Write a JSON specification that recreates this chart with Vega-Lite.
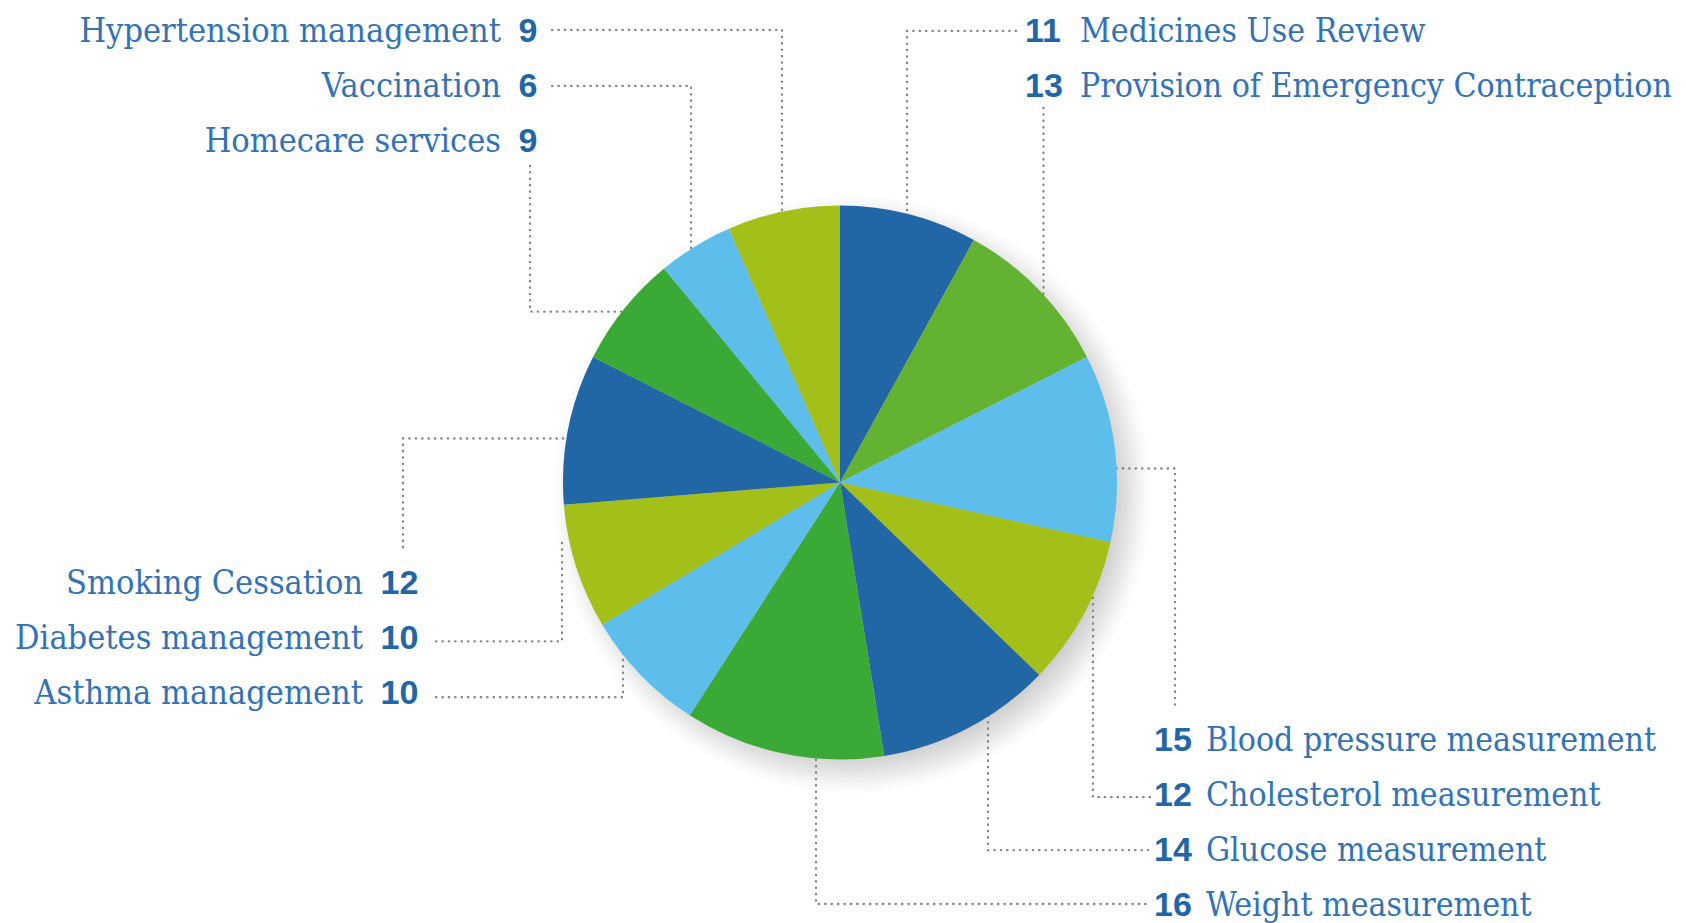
{
  "$schema": "https://vega.github.io/schema/vega-lite/v6.json",
  "width": 1686,
  "height": 923,
  "autosize": {"type": "fit", "contains": "padding"},
  "padding": 0,
  "background": "white",
  "config": {"view": {"stroke": null}},
  "datasets": {
    "slices": [
      {"idx": 1, "name": "Medicines Use Review", "value": 11},
      {"idx": 2, "name": "Provision of Emergency Contraception", "value": 13},
      {"idx": 3, "name": "Blood pressure measurement", "value": 15},
      {"idx": 4, "name": "Cholesterol measurement", "value": 12},
      {"idx": 5, "name": "Glucose measurement", "value": 14},
      {"idx": 6, "name": "Weight measurement", "value": 16},
      {"idx": 7, "name": "Asthma management", "value": 10},
      {"idx": 8, "name": "Diabetes management", "value": 10},
      {"idx": 9, "name": "Smoking Cessation", "value": 12},
      {"idx": 10, "name": "Homecare services", "value": 9},
      {"idx": 11, "name": "Vaccination", "value": 6},
      {"idx": 12, "name": "Hypertension management", "value": 9}
    ],
    "labels": [
      {"name": "Hypertension management", "value": 9, "side": "L", "tx": 501, "nx": 518.5, "ty": 42},
      {"name": "Vaccination", "value": 6, "side": "L", "tx": 501, "nx": 518.5, "ty": 97},
      {"name": "Homecare services", "value": 9, "side": "L", "tx": 501, "nx": 518.5, "ty": 152},
      {"name": "Smoking Cessation", "value": 12, "side": "L", "tx": 363, "nx": 380.5, "ty": 595},
      {"name": "Diabetes management", "value": 10, "side": "L", "tx": 363, "nx": 380.5, "ty": 650},
      {"name": "Asthma management", "value": 10, "side": "L", "tx": 363, "nx": 380.5, "ty": 705},
      {"name": "Medicines Use Review", "value": 11, "side": "R", "tx": 1080, "nx": 1025, "ty": 42},
      {"name": "Provision of Emergency Contraception", "value": 13, "side": "R", "tx": 1080, "nx": 1025, "ty": 97},
      {"name": "Blood pressure measurement", "value": 15, "side": "R", "tx": 1206, "nx": 1154, "ty": 752},
      {"name": "Cholesterol measurement", "value": 12, "side": "R", "tx": 1206, "nx": 1154, "ty": 807},
      {"name": "Glucose measurement", "value": 14, "side": "R", "tx": 1206, "nx": 1154, "ty": 862},
      {"name": "Weight measurement", "value": 16, "side": "R", "tx": 1206, "nx": 1154, "ty": 917}
    ],
    "leaders": [
      {"name": "Hypertension management", "step": 1, "px": 552, "py": 30},
      {"name": "Hypertension management", "step": 2, "px": 782, "py": 30},
      {"name": "Hypertension management", "step": 3, "px": 782, "py": 218},
      {"name": "Vaccination", "step": 1, "px": 552, "py": 86},
      {"name": "Vaccination", "step": 2, "px": 691, "py": 86},
      {"name": "Vaccination", "step": 3, "px": 691, "py": 254},
      {"name": "Homecare services", "step": 1, "px": 530, "py": 166},
      {"name": "Homecare services", "step": 2, "px": 530, "py": 312},
      {"name": "Homecare services", "step": 3, "px": 628, "py": 312},
      {"name": "Medicines Use Review", "step": 1, "px": 1016, "py": 31},
      {"name": "Medicines Use Review", "step": 2, "px": 907, "py": 31},
      {"name": "Medicines Use Review", "step": 3, "px": 907, "py": 220},
      {"name": "Provision of Emergency Contraception", "step": 1, "px": 1043.5, "py": 108},
      {"name": "Provision of Emergency Contraception", "step": 2, "px": 1043.5, "py": 302},
      {"name": "Blood pressure measurement", "step": 1, "px": 1110, "py": 469},
      {"name": "Blood pressure measurement", "step": 2, "px": 1175, "py": 469},
      {"name": "Blood pressure measurement", "step": 3, "px": 1175, "py": 710},
      {"name": "Cholesterol measurement", "step": 1, "px": 1093, "py": 592},
      {"name": "Cholesterol measurement", "step": 2, "px": 1093, "py": 798},
      {"name": "Cholesterol measurement", "step": 3, "px": 1151, "py": 798},
      {"name": "Glucose measurement", "step": 1, "px": 988, "py": 710},
      {"name": "Glucose measurement", "step": 2, "px": 988, "py": 851},
      {"name": "Glucose measurement", "step": 3, "px": 1151, "py": 851},
      {"name": "Weight measurement", "step": 1, "px": 816, "py": 754},
      {"name": "Weight measurement", "step": 2, "px": 816, "py": 905},
      {"name": "Weight measurement", "step": 3, "px": 1151, "py": 905},
      {"name": "Asthma management", "step": 1, "px": 436, "py": 698},
      {"name": "Asthma management", "step": 2, "px": 623, "py": 698},
      {"name": "Asthma management", "step": 3, "px": 623, "py": 650},
      {"name": "Diabetes management", "step": 1, "px": 436, "py": 642},
      {"name": "Diabetes management", "step": 2, "px": 562, "py": 642},
      {"name": "Diabetes management", "step": 3, "px": 562, "py": 538},
      {"name": "Smoking Cessation", "step": 1, "px": 403, "py": 548},
      {"name": "Smoking Cessation", "step": 2, "px": 403, "py": 439},
      {"name": "Smoking Cessation", "step": 3, "px": 572, "py": 439}
    ]
  },
  "layer": [
    {
      "data": {"values": [{}]},
      "mark": {
        "type": "arc",
        "outerRadius": 300,
        "theta": 0,
        "theta2": 6.2832,
        "fill": {
          "gradient": "radial",
          "x1": 0.5, "y1": 0.5, "r1": 0,
          "x2": 0.5, "y2": 0.5, "r2": 0.5,
          "stops": [
            {"offset": 0, "color": "#c8c8c8"},
            {"offset": 0.86, "color": "#cbcbcb"},
            {"offset": 0.92, "color": "#e2e2e2"},
            {"offset": 0.97, "color": "#f7f7f7"},
            {"offset": 1, "color": "#ffffff"}
          ]
        }
      },
      "encoding": {
        "x": {"datum": 852, "type": "quantitative", "scale": {"domain": [0, 1686], "nice": false, "zero": false}, "axis": null},
        "y": {"datum": 495, "type": "quantitative", "scale": {"domain": [0, 923], "reverse": true, "nice": false, "zero": false}, "axis": null}
      }
    },
    {
      "data": {"name": "leaders"},
      "mark": {"type": "line", "stroke": "#858585", "strokeWidth": 2.3, "strokeCap": "round", "strokeDash": [0.4, 6], "interpolate": "linear"},
      "encoding": {
        "x": {"field": "px", "type": "quantitative", "scale": {"domain": [0, 1686], "nice": false, "zero": false}, "axis": null},
        "y": {"field": "py", "type": "quantitative", "scale": {"domain": [0, 923], "reverse": true, "nice": false, "zero": false}, "axis": null},
        "detail": {"field": "name"},
        "order": {"field": "step"}
      }
    },
    {
      "data": {"name": "slices"},
      "mark": {"type": "arc", "outerRadius": 277},
      "encoding": {
        "x": {"datum": 840, "type": "quantitative", "scale": {"domain": [0, 1686], "nice": false, "zero": false}, "axis": null},
        "y": {"datum": 483, "type": "quantitative", "scale": {"domain": [0, 923], "reverse": true, "nice": false, "zero": false}, "axis": null},
        "theta": {"field": "value", "type": "quantitative", "stack": true},
        "order": {"field": "idx", "type": "quantitative"},
        "color": {
          "field": "name",
          "type": "nominal",
          "legend": null,
          "scale": {
            "domain": ["Medicines Use Review", "Provision of Emergency Contraception", "Blood pressure measurement", "Cholesterol measurement", "Glucose measurement", "Weight measurement", "Asthma management", "Diabetes management", "Smoking Cessation", "Homecare services", "Vaccination", "Hypertension management"],
            "range": ["#2167A5", "#64B232", "#5DBEEC", "#A3BF1A", "#2167A5", "#3BA935", "#5DBEEC", "#A3BF1A", "#2167A5", "#3BA935", "#5DBEEC", "#A3BF1A"]
          }
        }
      }
    },
    {
      "data": {"name": "labels"},
      "mark": {"type": "text", "align": "left", "baseline": "alphabetic", "font": "Liberation Sans", "fontWeight": "bold", "fontSize": 34, "fill": "#2166A6"},
      "encoding": {
        "x": {"field": "nx", "type": "quantitative", "scale": {"domain": [0, 1686], "nice": false, "zero": false}, "axis": null},
        "y": {"field": "ty", "type": "quantitative", "scale": {"domain": [0, 923], "reverse": true, "nice": false, "zero": false}, "axis": null},
        "text": {"field": "value", "type": "quantitative"}
      }
    },
    {
      "data": {"name": "labels"},
      "transform": [{"filter": "datum.side === 'L'"}],
      "mark": {"type": "text", "align": "right", "baseline": "alphabetic", "font": "DejaVu Serif Condensed", "fontSize": 34, "fill": "#3373B5"},
      "encoding": {
        "x": {"field": "tx", "type": "quantitative", "scale": {"domain": [0, 1686], "nice": false, "zero": false}, "axis": null},
        "y": {"field": "ty", "type": "quantitative", "scale": {"domain": [0, 923], "reverse": true, "nice": false, "zero": false}, "axis": null},
        "text": {"field": "name", "type": "nominal"}
      }
    },
    {
      "data": {"name": "labels"},
      "transform": [{"filter": "datum.side === 'R'"}],
      "mark": {"type": "text", "align": "left", "baseline": "alphabetic", "font": "DejaVu Serif Condensed", "fontSize": 33.5, "fill": "#3373B5"},
      "encoding": {
        "x": {"field": "tx", "type": "quantitative", "scale": {"domain": [0, 1686], "nice": false, "zero": false}, "axis": null},
        "y": {"field": "ty", "type": "quantitative", "scale": {"domain": [0, 923], "reverse": true, "nice": false, "zero": false}, "axis": null},
        "text": {"field": "name", "type": "nominal"}
      }
    }
  ]
}
